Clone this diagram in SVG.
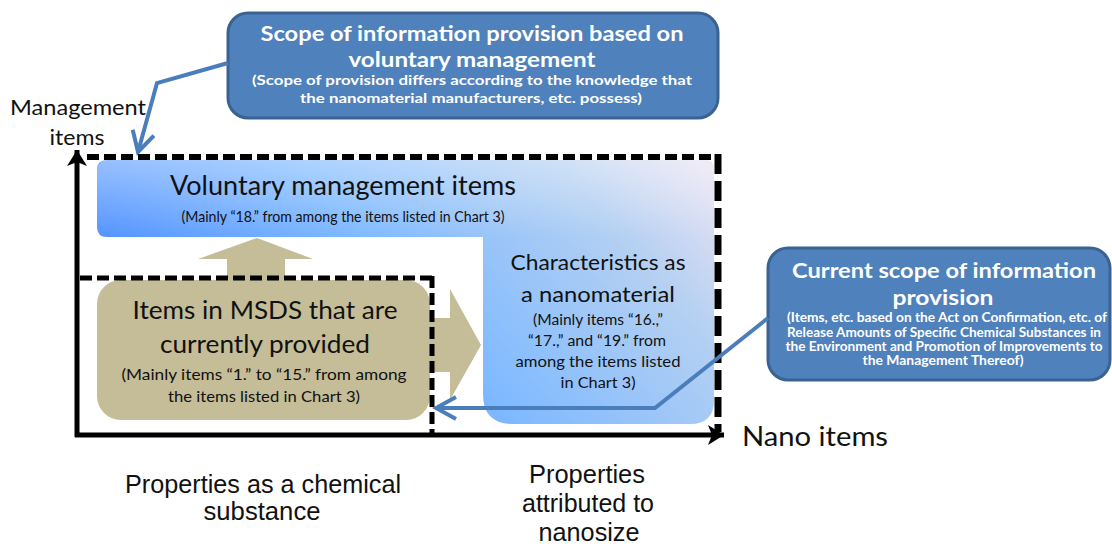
<svg xmlns="http://www.w3.org/2000/svg" width="1112" height="544" viewBox="0 0 1112 544">
  <defs>
    <style>
      .callout { fill: #4F81BD; stroke: #3A6391; stroke-width: 3; }
      .ctitle { font-family: Lato, "Liberation Sans", sans-serif; font-weight: bold; fill: #FFFFFF; text-anchor: middle; }
      .body { font-family: Lato, "Liberation Sans", sans-serif; fill: #111111; text-anchor: middle; }
      .axislabel { font-family: "Liberation Sans", Arial, sans-serif; fill: #111111; text-anchor: middle; }
      .beige { fill: #C4BD97; }
      .conn { fill: none; stroke: #4A7EBB; stroke-width: 4; stroke-linejoin: miter; }
      .axis { fill: none; stroke: #000000; stroke-width: 5; }
      .dashH { fill: none; stroke: #000000; stroke-width: 6; stroke-dasharray: 12 5; }
      .dashV { fill: none; stroke: #000000; stroke-width: 7; stroke-dasharray: 20 7; }
      .dashS { fill: none; stroke: #000000; stroke-width: 5; stroke-dasharray: 12 5; }
    </style>
    <marker id="openArrow" markerUnits="userSpaceOnUse" viewBox="-26 -15 30 30" markerWidth="30" markerHeight="30" refX="0" refY="0" orient="auto">
      <path d="M-20,-11 L0,0 L-20,11" fill="none" stroke="#4A7EBB" stroke-width="4"/>
    </marker>
    <marker id="solidArrow" markerUnits="userSpaceOnUse" viewBox="-18 -12 20 24" markerWidth="20" markerHeight="24" refX="0" refY="0" orient="auto">
      <path d="M0,0 L-16,-10 L-12,0 L-16,10 Z" fill="#000000"/>
    </marker>
    <linearGradient id="blueGrad" gradientUnits="userSpaceOnUse" x1="300" y1="500" x2="720" y2="140">
      <stop offset="0" stop-color="#5090FF"/>
      <stop offset="0.4" stop-color="#80BAFF"/>
      <stop offset="0.75" stop-color="#B4D0F2"/>
      <stop offset="1" stop-color="#F3E6F3"/>
    </linearGradient>
    <linearGradient id="topHighlight" x1="0" y1="0" x2="0" y2="1">
      <stop offset="0" stop-color="#FFFFFF" stop-opacity="0.35"/>
      <stop offset="1" stop-color="#FFFFFF" stop-opacity="0"/>
    </linearGradient>
  </defs>

  <rect width="1112" height="544" fill="#FFFFFF"/>

  <!-- Voluntary management items (top of the L-shaped blue area) -->
  <g id="node-voluntary-items">
    <path d="M107,160 H705 Q714,160 714,169 V400 Q714,424 690,424 H513 Q483,424 483,394 V237 H107 Q97,237 97,227 V170 Q97,160 107,160 Z" fill="url(#blueGrad)"/>
    <rect x="97" y="160" width="617" height="77" rx="10" fill="url(#topHighlight)"/>
    <text class="body" x="343" y="195" font-size="26" textLength="346" lengthAdjust="spacingAndGlyphs">Voluntary management items</text>
    <text class="body" x="343" y="222" font-size="16" textLength="323" lengthAdjust="spacingAndGlyphs">(Mainly “18.” from among the items listed in Chart 3)</text>
  </g>

  <!-- Characteristics as a nanomaterial -->
  <g id="node-nanomaterial">
    <text class="body" x="598" y="270" font-size="22" textLength="175" lengthAdjust="spacingAndGlyphs">Characteristics as</text>
    <text class="body" x="598" y="302" font-size="22" textLength="154" lengthAdjust="spacingAndGlyphs">a nanomaterial</text>
    <text class="body" x="598" y="325" font-size="15.5" textLength="130" lengthAdjust="spacingAndGlyphs">(Mainly items “16.,”</text>
    <text class="body" x="597" y="346" font-size="15.5" textLength="138" lengthAdjust="spacingAndGlyphs">“17.,” and “19.” from</text>
    <text class="body" x="598" y="367" font-size="15.5" textLength="165" lengthAdjust="spacingAndGlyphs">among the items listed</text>
    <text class="body" x="598" y="388" font-size="15.5" textLength="75" lengthAdjust="spacingAndGlyphs">in Chart 3)</text>
  </g>

  <!-- MSDS items (beige) with block arrows -->
  <g id="node-msds">
    <polygon class="beige" points="227,282 227,259 198,259 257,238 313,259 285,259 285,282"/>
    <polygon class="beige" points="428,318 450,318 450,289 481,345 450,400 450,372 428,372"/>
    <rect class="beige" x="97" y="280" width="333" height="140" rx="24"/>
    <text class="body" x="265" y="319" font-size="25" textLength="265" lengthAdjust="spacingAndGlyphs">Items in MSDS that are</text>
    <text class="body" x="265" y="353" font-size="25" textLength="210" lengthAdjust="spacingAndGlyphs">currently provided</text>
    <text class="body" x="264" y="380" font-size="16" textLength="285" lengthAdjust="spacingAndGlyphs">(Mainly items “1.” to “15.” from among</text>
    <text class="body" x="264" y="402" font-size="16" textLength="192" lengthAdjust="spacingAndGlyphs">the items listed in Chart 3)</text>
  </g>

  <!-- Dashed scope boxes -->
  <g id="scope-boxes">
    <line class="dashH" x1="87" y1="157" x2="712" y2="157"/>
    <line class="dashV" x1="718" y1="154" x2="718" y2="432"/>
    <line class="dashS" x1="80" y1="278" x2="432" y2="278"/>
    <line class="dashS" x1="432" y1="276" x2="432" y2="437"/>
  </g>

  <!-- Axes and axis labels -->
  <g id="axes">
    <line class="axis" x1="77" y1="437" x2="77" y2="150" marker-end="url(#solidArrow)"/>
    <line class="axis" x1="75" y1="435" x2="724" y2="435" marker-end="url(#solidArrow)"/>
    <text class="body" x="78" y="115" font-size="22" textLength="136" lengthAdjust="spacingAndGlyphs">Management</text>
    <text class="body" x="77" y="145" font-size="22" textLength="55" lengthAdjust="spacingAndGlyphs">items</text>
    <text class="body" x="815" y="446" font-size="26" textLength="146" lengthAdjust="spacingAndGlyphs">Nano items</text>
    <text class="axislabel" x="263" y="493" font-size="25" textLength="276" lengthAdjust="spacingAndGlyphs">Properties as a chemical</text>
    <text class="axislabel" x="262" y="520" font-size="25" textLength="117" lengthAdjust="spacingAndGlyphs">substance</text>
    <text class="axislabel" x="587" y="483" font-size="25" textLength="116" lengthAdjust="spacingAndGlyphs">Properties</text>
    <text class="axislabel" x="588" y="512" font-size="25" textLength="132" lengthAdjust="spacingAndGlyphs">attributed to</text>
    <text class="axislabel" x="589" y="541" font-size="25" textLength="101" lengthAdjust="spacingAndGlyphs">nanosize</text>
  </g>

  <!-- Callout: voluntary management scope -->
  <g id="callout-voluntary">
    <rect class="callout" x="228" y="13" width="490" height="105" rx="20"/>
    <text class="ctitle" x="472" y="41" font-size="21" textLength="423" lengthAdjust="spacingAndGlyphs">Scope of information provision based on</text>
    <text class="ctitle" x="472" y="67" font-size="21" textLength="247" lengthAdjust="spacingAndGlyphs">voluntary management</text>
    <text class="ctitle" x="472" y="85" font-size="13.5" textLength="440" lengthAdjust="spacingAndGlyphs">(Scope of provision  differs according  to the knowledge  that</text>
    <text class="ctitle" x="471" y="103" font-size="13.5" textLength="342" lengthAdjust="spacingAndGlyphs">the nanomaterial manufacturers, etc. possess)</text>
  </g>

  <!-- Callout: current scope -->
  <g id="callout-current">
    <rect class="callout" x="768" y="248" width="342" height="132" rx="20"/>
    <text class="ctitle" x="944" y="278" font-size="21" textLength="304" lengthAdjust="spacingAndGlyphs">Current scope of information</text>
    <text class="ctitle" x="943" y="305" font-size="21" textLength="101" lengthAdjust="spacingAndGlyphs">provision</text>
    <text class="ctitle" x="947" y="322" font-size="12.5" textLength="320" lengthAdjust="spacingAndGlyphs">(Items, etc. based on the Act on Confirmation, etc. of</text>
    <text class="ctitle" x="944" y="337" font-size="12.5" textLength="314" lengthAdjust="spacingAndGlyphs">Release Amounts of Specific Chemical Substances in</text>
    <text class="ctitle" x="944" y="351" font-size="12.5" textLength="317" lengthAdjust="spacingAndGlyphs">the Environment and Promotion of Improvements to</text>
    <text class="ctitle" x="943" y="365" font-size="12.5" textLength="161" lengthAdjust="spacingAndGlyphs">the Management Thereof)</text>
  </g>

  <!-- Connectors -->
  <g id="connectors">
    <polyline class="conn" points="228,63 157,83 138,152" marker-end="url(#openArrow)"/>
    <polyline class="conn" points="768,318 655,408 436,408" marker-end="url(#openArrow)"/>
  </g>
</svg>
